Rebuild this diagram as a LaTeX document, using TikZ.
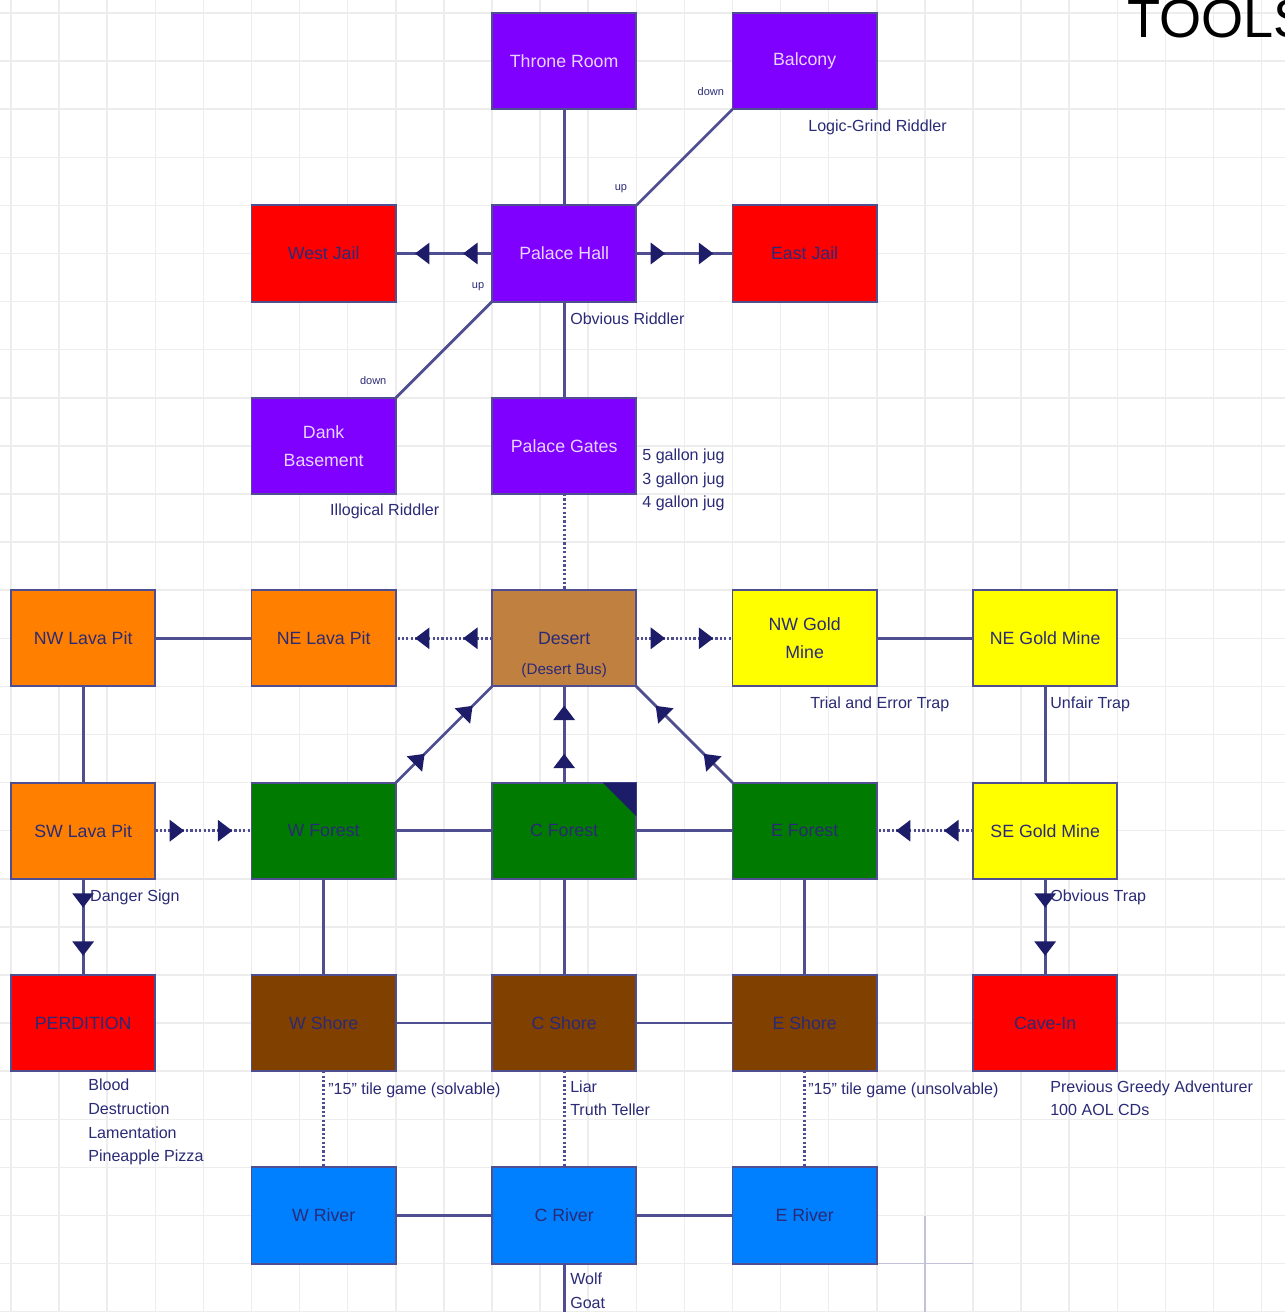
\documentclass[tikz,border=0pt]{standalone}
\usepackage{fontspec}
\setmainfont{Liberation Sans}
\usetikzlibrary{arrows.meta,positioning,decorations.markings}

\definecolor{edgecol}{RGB}{78,78,145}
\definecolor{tipcol}{RGB}{28,28,105}
\definecolor{inkcol}{RGB}{42,42,118}
\definecolor{palecol}{RGB}{232,212,255}
\definecolor{palacecol}{RGB}{128,0,255}
\definecolor{jailcol}{RGB}{255,0,0}
\definecolor{lavacol}{RGB}{255,128,0}
\definecolor{sandcol}{RGB}{192,128,64}
\definecolor{goldcol}{RGB}{255,255,0}
\definecolor{forestcol}{RGB}{0,122,0}
\definecolor{shorecol}{RGB}{128,64,0}
\definecolor{rivercol}{RGB}{0,128,255}

\begin{document}
\begin{tikzpicture}[
        font=\fontsize{10.5}{16.5}\selectfont,
        node distance=2cm and 2cm,
        >=Latex,
        room/.style={draw=edgecol, line width=1.1pt, minimum width=3cm, minimum height=2cm, outer sep=0pt, inner sep=2pt, align=center, text=inkcol},
        palace/.style={room, fill=palacecol, text=palecol},
        jail/.style={room, fill=jailcol},
        lava/.style={room, fill=lavacol},
        sand/.style={room, fill=sandcol},
        gold/.style={room, fill=goldcol},
        forest/.style={room, fill=forestcol},
        shore/.style={room, fill=shorecol},
        river/.style={room, fill=rivercol},
        passage/.style={draw=edgecol, line width=1.6pt},
        secret/.style={passage, dash pattern=on 1.3pt off 1.3pt},
        oneway/.style={postaction={decorate}, decoration={markings,
            mark=at position 0.3 with {\pgfsetdash{}{0pt}\arrow{Triangle[length=3mm,width=4.4mm,color=tipcol]}},
            mark=at position 0.8 with {\pgfsetdash{}{0pt}\arrow{Triangle[length=3mm,width=4.4mm,color=tipcol]}}}},
        tag/.style={font=\fontsize{9.5}{14}\selectfont, text=inkcol, inner sep=0pt, align=left},
        updown/.style={font=\fontsize{6.5}{8}\selectfont, text=inkcol, inner sep=0pt},
        gridline/.style={black!7, line width=0.9pt}
    ]
        \useasboundingbox (-0.2287,0.2703) rectangle (26.466,-27.006);
        \draw[gridline] (-1,1) grid (27,-28);
        \draw[edgecol!35, line width=0.8pt] (19,-25) -- (19,-27.5) (18,-26) -- (20,-26);

        % palace
        \node[palace] (throne) at (11.5,-1) {Throne Room};
        \node[palace, right=of throne] (balcony) {Balcony};
        \node[palace, below=of throne] (hall) {Palace Hall};
        \node[jail, left=of hall] (wjail) {West Jail};
        \node[jail, right=of hall] (ejail) {East Jail};
        \node[palace, below=of hall] (gates) {Palace Gates};
        \node[palace, left=of gates] (basement) {Dank\\Basement};

        % desert row
        \node[sand, below=of gates] (desert) {Desert};
        \node[tag, font=\fontsize{9}{11}\selectfont] (desertbus) at ([yshift=-0.67cm]desert.center) {(Desert Bus)};
        \node[lava, left=of desert] (nelava) {NE Lava Pit};
        \node[lava, left=of nelava] (nwlava) {NW Lava Pit};
        \node[gold, right=of desert] (nwgold) {NW Gold\\Mine};
        \node[gold, right=of nwgold] (negold) {NE Gold Mine};

        % forest row
        \node[forest, below=of desert] (cforest) {C Forest};
        \node[forest, left=of cforest] (wforest) {W Forest};
        \node[lava, left=of wforest] (swlava) {SW Lava Pit};
        \node[forest, right=of cforest] (eforest) {E Forest};
        \node[gold, right=of eforest] (segold) {SE Gold Mine};
        \fill[tipcol] (cforest.north east) -- ([xshift=-0.7cm]cforest.north east) -- ([yshift=-0.7cm]cforest.north east) -- cycle;

        % shore row
        \node[shore, below=of cforest] (cshore) {C Shore};
        \node[shore, left=of cshore] (wshore) {W Shore};
        \node[jail, left=of wshore] (perdition) {PERDITION};
        \node[shore, right=of cshore] (eshore) {E Shore};
        \node[jail, right=of eshore] (cavein) {Cave-In};

        % river row
        \node[river, below=of cshore] (criver) {C River};
        \node[river, left=of criver] (wriver) {W River};
        \node[river, right=of criver] (eriver) {E River};
        \coordinate (riverout) at (11.5,-27.5);

        \node[anchor=base west, font=\fontsize{32}{36}\selectfont, inner sep=0pt] (tools) at (23.2,-0.5) {TOOLS};

        % connections
        \draw[passage] (throne) -- (hall);
        \draw[passage] (balcony.south west) -- (hall.north east);
        \draw[passage, oneway] (hall) -- (wjail);
        \draw[passage, oneway] (hall) -- (ejail);
        \draw[passage] (hall.south west) -- (basement.north east);
        \draw[passage] (hall) -- (gates);
        \draw[secret] (gates) -- (desert);
        \draw[secret, oneway] (desert) -- (nelava);
        \draw[secret, oneway] (desert) -- (nwgold);
        \draw[passage] (nwlava) -- (nelava);
        \draw[passage] (nwgold) -- (negold);
        \draw[passage] (nwlava) -- (swlava);
        \draw[passage] (negold) -- (segold);
        \draw[passage, oneway] (wforest.north east) -- (desert.south west);
        \draw[passage, oneway] (cforest) -- (desert);
        \draw[passage, oneway] (eforest.north west) -- (desert.south east);
        \draw[secret, oneway] (swlava) -- (wforest);
        \draw[secret, oneway] (segold) -- (eforest);
        \draw[passage] (wforest) -- (cforest);
        \draw[passage] (cforest) -- (eforest);
        \draw[passage, oneway] (swlava) -- (perdition);
        \draw[passage, oneway] (segold) -- (cavein);
        \draw[passage] (wforest) -- (wshore);
        \draw[passage] (cforest) -- (cshore);
        \draw[passage] (eforest) -- (eshore);
        \draw[passage] (wshore) -- (cshore);
        \draw[passage] (cshore) -- (eshore);
        \draw[secret] (wshore) -- (wriver);
        \draw[secret] (cshore) -- (criver);
        \draw[secret] (eshore) -- (eriver);
        \draw[passage] (wriver) -- (criver);
        \draw[passage] (criver) -- (eriver);
        \draw[passage] (criver) -- (riverout);

        % up / down marks
        \node[updown] (balcdown) at (14.55,-1.64) {down};
        \node[updown] (hallup) at (12.68,-3.66) {up};
        \node[updown] (hallup2) at (9.71,-5.68) {up};
        \node[updown] (basedown) at (7.53,-7.65) {down};

        % notes
        \node[tag, anchor=west] (logic) at (16.57,-2.37) {Logic-Grind Riddler};
        \node[tag, anchor=west] (obvious) at (11.62,-6.36) {Obvious Riddler};
        \node[tag, anchor=west] (illogical) at (6.63,-10.37) {Illogical Riddler};
        \node[tag, anchor=west] (jugs) at (13.12,-9.71) {5 gallon jug\\3 gallon jug\\4 gallon jug};
        \node[tag, anchor=west] (trial) at (16.61,-14.37) {Trial and Error Trap};
        \node[tag, anchor=west] (unfair) at (21.6,-14.37) {Unfair Trap};
        \node[tag, anchor=west] (danger) at (1.64,-18.38) {Danger Sign};
        \node[tag, anchor=west] (obvtrap) at (21.6,-18.38) {Obvious Trap};
        \node[tag, anchor=west] (solvable) at (6.59,-22.39) {"15" tile game (solvable)};
        \node[tag, anchor=west] (liar) at (11.62,-22.56) {Liar\\Truth Teller};
        \node[tag, anchor=west] (unsolvable) at (16.57,-22.39) {"15" tile game (unsolvable)};
        \node[tag, anchor=west] (greedy) at (21.6,-22.56) {Previous Greedy Adventurer\\100 AOL CDs};
        \node[tag, anchor=west] (doom) at (1.6,-23.06) {Blood\\Destruction\\Lamentation\\Pineapple Pizza};
        \node[tag, anchor=west] (ferry) at (11.62,-26.57) {Wolf\\Goat};
    \end{tikzpicture}
\end{document}
